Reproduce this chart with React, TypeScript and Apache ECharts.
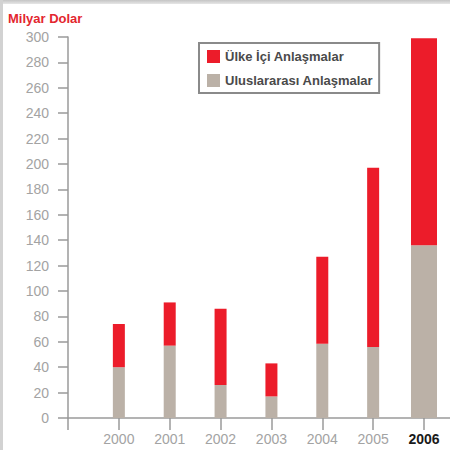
import React, { useEffect, useRef } from "react";
import * as echarts from "echarts";

const years = ["2000", "2001", "2002", "2003", "2004", "2005", "2006"];
const international = [40, 57, 26, 17, 58.5, 56, 136];
const domestic = [34, 34, 60, 26, 68.5, 141, 163];
const yTicks = { min: 0, max: 300, interval: 20 };
const seriesNames = ["Ülke İçi Anlaşmalar", "Uluslararası Anlaşmalar"];
const unitLabel = "Milyar Dolar";
const highlightYear = "2006";

const RED = "#ec1c2a";
const GRAY = "#bbb1a7";
const AXIS = "#9a9a9a";
const FONT = "'Liberation Sans', Arial, Helvetica, sans-serif";

export default function App() {
  const ref = useRef<HTMLDivElement>(null);

  useEffect(() => {
    if (!ref.current) return;
    const chart = echarts.init(ref.current, null, { renderer: "svg" });

    const cats = ["", ...years];
    const catData = cats.map((c) =>
      c === highlightYear
        ? { value: c, textStyle: { fontWeight: "bold", color: "#1a1a1a" } }
        : c
    );
    const hl = years.indexOf(highlightYear);
    const pick = (arr: number[], wide: boolean) => [
      "-",
      ...arr.map((v, i) => ((i === hl) === wide ? v : "-")),
    ];

    const xAxisBase = {
      type: "category",
      data: catData,
      boundaryGap: false,
      axisLine: { show: true, lineStyle: { color: AXIS, width: 1.5 } },
      axisTick: {
        show: true,
        length: 12,
        interval: 0,
        lineStyle: { color: AXIS, width: 1.5 },
      },
      axisLabel: {
        interval: 0,
        color: "#a3a3a3",
        fontSize: 14,
        fontFamily: FONT,
        margin: 14,
      },
      splitLine: { show: false },
    };

    const option: any = {
      animation: false,
      backgroundColor: "#ffffff",
      title: {
        text: unitLabel,
        left: 8,
        top: 12,
        padding: 0,
        textStyle: {
          color: "#e3262f",
          fontSize: 13,
          fontWeight: "bold",
          fontFamily: FONT,
        },
      },
      legend: {
        data: seriesNames,
        orient: "vertical",
        left: 199,
        top: 43,
        padding: [7, 6, 6, 8],
        itemWidth: 13,
        itemHeight: 13,
        itemGap: 11,
        icon: "rect",
        borderColor: "#8a8a8a",
        borderWidth: 2,
        backgroundColor: "#ffffff",
        textStyle: {
          color: "#4a4a4a",
          fontSize: 13,
          fontWeight: "bold",
          fontFamily: FONT,
        },
      },
      grid: { left: 68, top: 37, bottom: 32, right: 26, containLabel: false },
      xAxis: [{ ...xAxisBase }, { ...xAxisBase, show: false }],
      yAxis: {
        type: "value",
        min: yTicks.min,
        max: yTicks.max,
        interval: yTicks.interval,
        axisLine: { show: true, lineStyle: { color: AXIS, width: 1.5 } },
        axisTick: {
          show: true,
          length: 10,
          lineStyle: { color: AXIS, width: 1.5 },
        },
        axisLabel: {
          color: "#a3a3a3",
          fontSize: 14,
          fontFamily: FONT,
          margin: 19,
        },
        splitLine: { show: false },
      },
      graphic: [
        {
          type: "rect",
          shape: { x: 0, y: 0, width: 450, height: 4 },
          style: {
            fill: new echarts.graphic.LinearGradient(0, 0, 0, 1, [
              { offset: 0, color: "#c4c4c4" },
              { offset: 1, color: "#e6e6e6" },
            ]),
          },
          silent: true,
        },
        {
          type: "rect",
          shape: { x: 0, y: 0, width: 3, height: 450 },
          style: { fill: "#d2d2d2" },
          silent: true,
        },
        {
          type: "line",
          shape: { x1: 423, y1: 418, x2: 450, y2: 418 },
          style: { stroke: AXIS, lineWidth: 1.5 },
          z: -1,
          silent: true,
        },
      ],
      series: [
        {
          name: seriesNames[1],
          type: "bar",
          stack: "a",
          xAxisIndex: 0,
          barWidth: 12,
          clip: false,
          itemStyle: { color: GRAY },
          data: pick(international, false),
        },
        {
          name: seriesNames[0],
          type: "bar",
          stack: "a",
          xAxisIndex: 0,
          barWidth: 12,
          clip: false,
          itemStyle: { color: RED },
          data: pick(domestic, false),
        },
        {
          name: seriesNames[1],
          type: "bar",
          stack: "b",
          xAxisIndex: 1,
          barWidth: 26,
          clip: false,
          itemStyle: { color: GRAY },
          data: pick(international, true),
        },
        {
          name: seriesNames[0],
          type: "bar",
          stack: "b",
          xAxisIndex: 1,
          barWidth: 26,
          clip: false,
          itemStyle: { color: RED },
          data: pick(domestic, true),
        },
      ],
    };

    chart.setOption(option);
    return () => chart.dispose();
  }, []);

  return (
    <div
      ref={ref}
      style={{ position: "fixed", left: 0, top: 0, width: 450, height: 450 }}
    />
  );
}
